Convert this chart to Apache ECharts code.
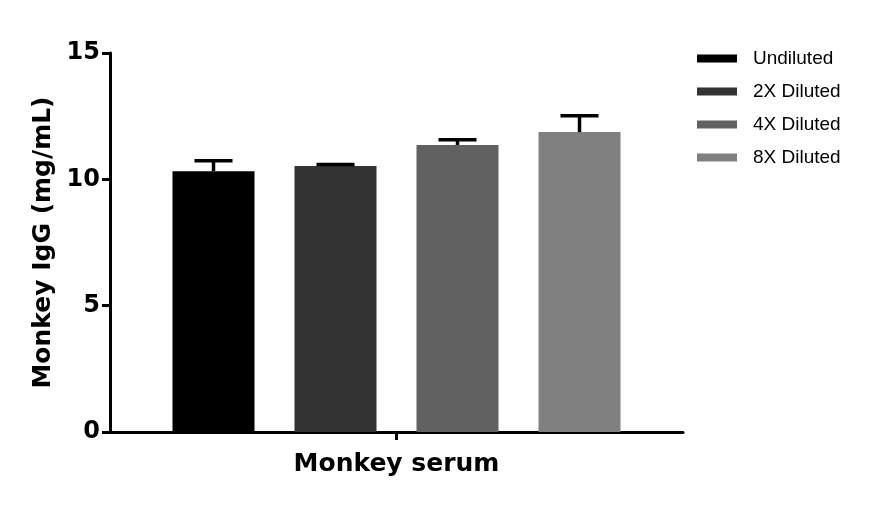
<!DOCTYPE html>
<html>
<head>
<meta charset="utf-8">
<script src="https://cdn.jsdelivr.net/npm/echarts@6/dist/echarts.min.js"></script>
<style>html,body{margin:0;padding:0;background:#fff}#c{width:876px;height:507px}</style>
</head>
<body>
<div id="c"></div>
<script>
const categories = ['Monkey serum'];
const seriesNames = ['Undiluted', '2X Diluted', '4X Diluted', '8X Diluted'];
const means = [10.32, 10.53, 11.36, 11.87];
const errors = [0.42, 0.06, 0.21, 0.65];
const colors = ['#000000', '#333333', '#616161', '#808080'];
const yTicks = [0, 5, 10, 15];

const BAR_W = 82, BAR_STEP = 122;
const chart = echarts.init(document.getElementById('c'));

const barSeries = seriesNames.map((n, i) => ({
  name: n, type: 'bar', data: [means[i]], barWidth: BAR_W, barGap: (40 / 82 * 100) + '%',
  itemStyle: { color: colors[i] }, z: 2
}));

const errData = means.map((m, i) => [0, m, errors[i], i]);
const boldFont = { fontFamily: 'DejaVu Sans', fontWeight: 'bold', color: '#000' };

chart.setOption({
  animation: false,
  color: colors,
  grid: { left: 110, right: 193, top: 53, bottom: 75 },
  legend: {
    orient: 'vertical', left: 692, top: 44, itemWidth: 40, itemHeight: 8, itemGap: 14,
    icon: 'rect', data: seriesNames,
    textStyle: { fontFamily: 'Liberation Sans', fontSize: 19, color: '#000', padding: [0, 0, 0, 11] }
  },
  xAxis: [{
    type: 'category', data: categories,
    axisLine: { onZero: false, lineStyle: { color: '#000', width: 3 } },
    axisTick: { show: false },
    axisLabel: Object.assign({ margin: 20, fontSize: 25 }, boldFont)
  }, {
    type: 'value', position: 'bottom', min: -1, max: 1, interval: 1,
    axisLine: { show: false, onZero: false }, splitLine: { show: false },
    axisLabel: { show: false },
    axisTick: { show: true, length: 8, customValues: [0], lineStyle: { color: '#000', width: 3 } }
  }],
  yAxis: {
    type: 'value', min: yTicks[0], max: yTicks[yTicks.length - 1], interval: 5,
    name: 'Monkey IgG (mg/mL)', nameLocation: 'middle', nameGap: 48,
    nameTextStyle: Object.assign({ fontSize: 25 }, boldFont),
    splitLine: { show: false },
    axisLine: { show: true, onZero: false, lineStyle: { color: '#000', width: 3 } },
    axisTick: { show: true, length: 8, lineStyle: { color: '#000', width: 3 } },
    axisLabel: Object.assign({ margin: 10, fontSize: 24 }, boldFont)
  },
  series: barSeries.concat([{
    type: 'custom', name: 'err', data: errData, z: 5,
    encode: { x: 0, y: 1 },
    renderItem: function (params, api) {
      const idx = api.value(3);
      const c = api.coord([api.value(0), api.value(1)]);
      const t = api.coord([api.value(0), api.value(1) + api.value(2)]);
      const x = c[0] + (idx - 1.5) * BAR_STEP;
      const hw = 19;
      return { type: 'group', children: [
        { type: 'line', shape: { x1: x, y1: c[1], x2: x, y2: t[1] }, style: { stroke: '#000', lineWidth: 3.5 } },
        { type: 'line', shape: { x1: x - hw, y1: t[1], x2: x + hw, y2: t[1] }, style: { stroke: '#000', lineWidth: 3.5 } }
      ]};
    }
  }])
});
</script>
</body>
</html>
